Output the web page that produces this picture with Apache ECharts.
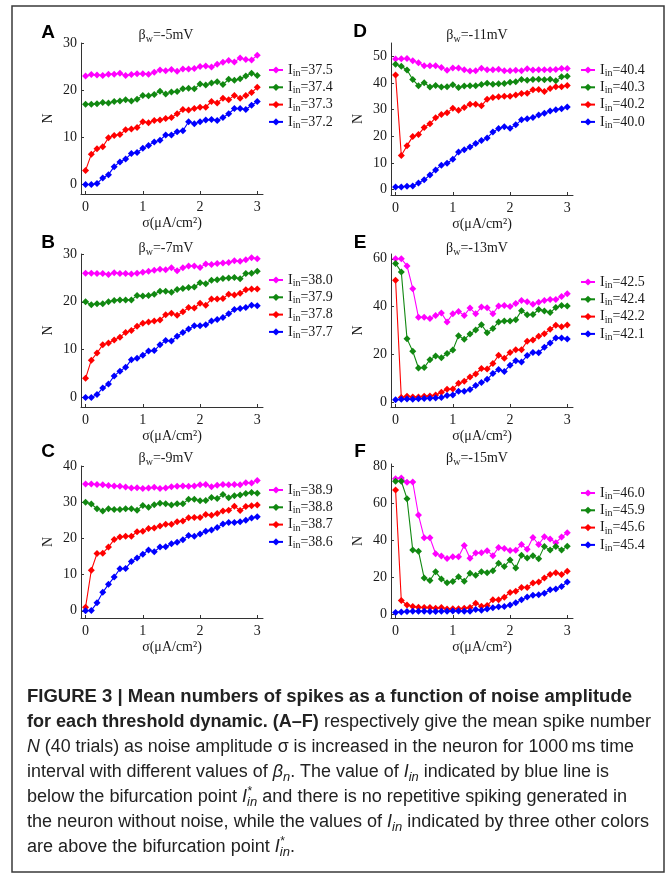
<!DOCTYPE html>
<html><head><meta charset="utf-8">
<script src="https://cdn.jsdelivr.net/npm/echarts@6/dist/echarts.min.js"></script>
<style>html,body{margin:0;padding:0;background:#fff}#c{width:668px;height:875px}</style>
</head><body><div id="c"></div>
<script>
// ---------------- DATA ----------------
const sigma = [0,0.1,0.2,0.3,0.4,0.5,0.6,0.7,0.8,0.9,1.0,1.1,1.2,1.3,1.4,1.5,1.6,1.7,1.8,1.9,2.0,2.1,2.2,2.3,2.4,2.5,2.6,2.7,2.8,2.9,3.0];
const xTicks = [0,1,2,3];

// Panel A (beta_w = -5mV)
const A_I = ['37.5','37.4','37.3','37.2'];
const A_mag = [23.0,23.3,23.2,23.1,23.4,23.4,23.6,23.1,23.3,23.5,23.5,23.4,23.8,24.3,24.1,24.4,24.0,24.5,24.5,24.6,25.0,25.1,24.9,25.5,25.9,26.3,26.0,26.8,26.5,26.4,27.4];
const A_grn = [17.0,17.0,17.1,17.4,17.3,17.6,17.7,18.0,17.7,18.1,18.9,18.8,19.1,19.8,19.2,19.6,19.7,20.3,20.4,20.3,21.3,21.1,21.5,21.8,21.2,22.3,22.1,22.4,23.0,23.6,23.1];
const A_red = [3.0,6.4,7.6,8.0,9.9,10.4,10.6,11.6,11.8,12.1,13.3,13.1,13.6,13.7,14.0,14.2,15.0,15.9,15.8,16.1,16.4,16.4,17.6,17.3,18.3,18.0,18.9,18.3,18.9,19.5,20.6];
const A_blu = [0.0,0.0,0.2,1.4,2.1,3.8,4.8,5.4,6.6,6.8,7.7,8.3,9.0,9.4,10.5,10.5,11.2,11.4,13.3,12.9,13.3,13.7,13.8,13.6,14.2,15.0,16.1,16.1,15.9,16.8,17.6];
const A_yTicks = [0,10,20,30];

// Panel B (beta_w = -7mV)
const B_I = ['38.0','37.9','37.8','37.7'];
const B_mag = [26.0,26.0,25.9,25.9,25.7,26.1,25.9,25.9,25.8,26.0,26.2,26.4,26.6,26.8,26.7,27.1,26.5,27.1,27.5,27.5,27.2,27.9,27.8,28.0,28.1,28.2,28.6,28.5,28.8,29.2,29.0];
const B_grn = [20.0,19.4,19.6,19.6,20.0,20.3,20.4,20.4,20.4,21.3,21.2,21.3,21.6,22.2,22.2,22.0,22.6,22.8,23.0,23.1,24.0,23.8,24.5,24.6,24.9,25.0,25.1,24.8,25.9,26.0,26.4];
const B_red = [4.0,7.8,9.3,11.0,11.4,12.0,12.6,13.6,14.0,14.9,15.5,15.8,16.0,16.2,17.3,17.6,17.2,17.9,18.8,18.7,19.7,19.3,20.6,20.6,20.7,21.6,21.4,21.8,22.5,22.7,22.7];
const B_blu = [0.0,0.0,0.6,2.0,2.8,4.5,5.5,6.3,7.9,8.2,8.8,9.7,9.8,11.0,11.9,11.8,12.8,13.6,14.3,15.0,15.0,15.2,16.0,16.3,16.7,17.5,18.4,18.6,18.8,19.3,19.2];
const B_yTicks = [0,10,20,30];

// Panel C (beta_w = -9mV)
const C_I = ['38.9','38.8','38.7','38.6'];
const C_mag = [35.0,35.0,34.9,34.8,34.6,34.5,34.4,34.2,33.9,34.0,33.8,33.9,34.1,33.8,33.9,34.3,34.4,34.5,34.4,34.5,34.8,34.9,34.3,34.7,34.9,34.8,34.9,34.8,35.4,35.3,36.0];
const C_grn = [30.0,29.5,28.2,27.6,28.2,28.0,28.0,28.2,28.2,27.8,29.1,28.6,29.3,29.7,29.6,29.2,29.6,29.6,30.8,30.8,30.4,30.5,31.3,31.0,32.1,31.2,31.8,32.0,32.4,32.7,32.5];
const C_red = [1.0,11.2,15.8,15.9,17.6,19.7,20.4,20.6,20.6,21.8,22.0,22.7,22.9,23.4,23.9,23.9,24.6,24.8,25.7,25.8,25.8,26.6,26.4,26.9,27.6,27.8,28.9,27.7,28.8,29.0,29.2];
const C_blu = [0.0,0.1,2.2,5.1,7.3,9.3,11.6,11.7,13.6,14.6,15.6,16.8,16.3,17.6,17.7,18.5,18.9,19.6,20.8,20.6,21.2,22.0,22.3,23.0,24.0,24.4,24.4,24.6,25.0,25.6,26.0];
const C_yTicks = [0,10,20,30,40];

// Panel D (beta_w = -11mV)
const D_I = ['40.4','40.3','40.2','40.0'];
const D_mag = [49.0,49.1,49.2,48.3,47.6,46.5,46.5,46.5,45.8,44.8,45.6,45.6,45.0,44.5,44.6,45.5,45.0,45.0,45.2,44.6,44.6,44.8,44.6,45.3,44.9,45.0,45.0,45.0,45.1,45.4,45.4];
const D_grn = [47.0,46.3,44.9,41.3,39.0,40.1,38.5,39.1,38.5,38.6,39.3,38.3,38.9,39.0,39.0,39.4,39.9,39.5,39.7,39.8,40.3,40.5,41.3,41.0,41.3,41.4,41.2,41.4,40.8,42.3,42.5];
const D_red = [43.0,12.8,16.5,19.9,20.7,23.3,24.7,27.0,28.2,28.8,30.5,29.8,30.8,32.0,32.0,31.5,33.9,34.6,34.8,35.0,35.0,35.5,36.1,36.2,37.5,37.6,36.8,37.9,38.6,38.6,39.1];
const D_blu = [1.0,1.0,1.3,1.4,2.5,3.7,5.5,7.4,9.2,9.9,11.4,14.1,15.0,16.0,17.3,18.4,19.4,21.6,22.9,23.6,23.0,24.3,26.2,26.6,27.1,28.0,28.7,29.5,30.0,30.3,31.0];
const D_yTicks = [0,10,20,30,40,50];

// Panel E (beta_w = -13mV)
const E_I = ['42.5','42.4','42.2','42.1'];
const E_mag = [60.0,60.0,57.0,47.5,35.5,35.5,35.0,36.3,37.3,33.6,37.0,38.0,36.3,39.4,37.0,39.8,39.5,37.0,40.3,40.5,40.0,41.3,42.6,42.0,41.0,41.8,42.6,43.0,43.0,44.2,45.4];
const E_grn = [58.0,54.5,26.5,21.3,14.3,14.5,17.8,19.3,18.6,20.4,21.8,27.8,26.3,28.5,30.2,32.4,29.1,30.8,33.6,34.0,34.0,34.5,38.3,36.6,36.7,38.8,38.2,37.5,39.6,40.5,40.2];
const E_red = [51.0,2.0,2.5,2.2,2.2,2.5,2.6,3.0,4.2,5.4,5.5,7.9,8.8,10.5,11.8,14.1,13.9,16.2,19.6,18.4,20.8,21.9,22.0,25.5,26.0,27.6,28.6,30.5,32.2,31.6,32.3];
const E_blu = [1.0,1.2,1.3,1.2,1.4,1.6,1.7,1.8,2.0,2.8,3.0,4.6,4.6,5.3,7.0,8.2,9.6,12.0,13.7,12.9,15.5,17.3,16.8,19.5,20.8,20.7,23.0,24.8,26.9,26.9,26.4];
const E_yTicks = [0,20,40,60];

// Panel F (beta_w = -15mV)
const F_I = ['46.0','45.9','45.6','45.4'];
const F_mag = [73.0,73.5,71.2,71.3,53.5,41.3,41.2,32.6,31.4,30.1,31.0,31.0,37.1,30.2,33.0,33.1,34.3,31.6,36.0,35.4,34.4,34.5,37.6,35.0,41.4,37.6,41.8,40.6,38.6,41.6,44.0];
const F_grn = [71.7,71.7,62.3,34.6,34.0,19.5,18.2,22.9,19.0,17.0,17.7,20.2,17.8,22.1,21.0,22.9,22.4,23.5,27.5,25.8,29.2,24.9,31.8,30.4,31.6,30.0,36.6,34.6,36.6,34.6,36.7];
const F_red = [67.0,7.4,5.0,4.2,3.8,3.6,3.6,3.2,3.7,2.8,3.0,3.0,3.2,3.6,6.0,4.4,4.8,7.9,7.8,9.2,11.8,12.4,14.5,14.5,16.8,17.4,19.5,21.4,22.4,21.5,23.2];
const F_blu = [1.0,1.2,1.5,1.6,1.6,1.7,1.5,1.5,1.6,1.6,1.8,1.8,1.7,1.6,2.6,2.2,2.8,3.5,4.0,4.2,5.0,6.2,7.8,9.3,10.3,10.5,11.3,13.2,13.6,15.0,17.4];
const F_yTicks = [0,20,40,60,80];

const letters = ['A','B','C','D','E','F'];
const betas = ['-5','-7','-9','-11','-13','-15'];
const xName = 'σ(μA/cm²)';
const yName = 'N';

// ---------------- LAYOUT / STYLE ----------------
const panels = [
  {I:A_I, d:[A_mag,A_grn,A_red,A_blu], yt:A_yTicks, ymax:30, g:{left:81,top:43,width:182,height:151}, title:[166,35], letter:[48,33], legend:[268,61.5]},
  {I:B_I, d:[B_mag,B_grn,B_red,B_blu], yt:B_yTicks, ymax:30, g:{left:81,top:254,width:182,height:153}, title:[166,248], letter:[48,243], legend:[268,271.5]},
  {I:C_I, d:[C_mag,C_grn,C_red,C_blu], yt:C_yTicks, ymax:40, g:{left:81,top:466,width:182,height:152}, title:[166,458], letter:[48,452], legend:[268,481.5]},
  {I:D_I, d:[D_mag,D_grn,D_red,D_blu], yt:D_yTicks, ymax:55, g:{left:391,top:43,width:182,height:152}, title:[477,35], letter:[360,32], legend:[580,61.5]},
  {I:E_I, d:[E_mag,E_grn,E_red,E_blu], yt:E_yTicks, ymax:62, g:{left:391,top:254,width:182,height:153}, title:[477,248], letter:[360,243], legend:[580,273.5]},
  {I:F_I, d:[F_mag,F_grn,F_red,F_blu], yt:F_yTicks, ymax:81, g:{left:391,top:464,width:182,height:154}, title:[477,458], letter:[360,452], legend:[580,484.5]}
];
const colors = ['#ff00ff','#118811','#ff0000','#0000ff'];
const SERIF = '"Liberation Serif", "DejaVu Serif", serif';
const SANS = '"Liberation Sans", Arial, sans-serif';
const axisCol = '#333';
const txtCol = '#1a1a1a';

// text measuring helpers for graphic text
const mctx = document.createElement('canvas').getContext('2d');
function fstr(f){ return (f.style||'normal')+' '+(f.weight||'normal')+' '+f.size+'px '+f.family; }
function meas(t,f){ mctx.font = fstr(f); return mctx.measureText(t).width; }
function layoutSegs(segs, x0, y, align, targetW, fill){
  let w = 0; const ws = segs.map(s=>{const m=meas(s.t,s.f); if(!s.noAdv) w+=m; return m;});
  const sc = targetW ? targetW/w : 1;
  const start = align==='center' ? x0 - w*sc/2 : x0;
  let cur = 0; const els = [];
  segs.forEach((s,i)=>{
    els.push({type:'text', silent:true, x:start+cur*sc, y:y+(s.dy||0), scaleX:sc,
      style:{text:s.t, font:fstr(s.f), fill:fill||'#222', align:'left', verticalAlign:'middle', textAlign:'left', textVerticalAlign:'middle'}});
    if(!s.noAdv) cur += ws[i];
  });
  return els;
}

const grid=[], xAxis=[], yAxis=[], series=[], legend=[], graphic=[];
panels.forEach((p,k)=>{
  grid.push(Object.assign({containLabel:false, outerBoundsMode:'none'}, p.g));
  xAxis.push({gridIndex:k, type:'value', min:-0.08, max:3.1,
    axisLine:{show:true, onZero:false, lineStyle:{color:axisCol, width:1}},
    axisTick:{show:true, inside:true, length:3, customValues:xTicks, lineStyle:{color:axisCol}},
    axisLabel:{customValues:xTicks, fontFamily:SERIF, fontSize:14, color:txtCol, margin:6},
    splitLine:{show:false},
    name:xName, nameLocation:'middle', nameGap:22,
    nameTextStyle:{fontFamily:SERIF, fontSize:14, color:txtCol}});
  yAxis.push({gridIndex:k, type:'value', min:-2, max:p.ymax,
    axisLine:{show:true, onZero:false, lineStyle:{color:axisCol, width:1}},
    axisTick:{show:true, inside:true, length:3, customValues:p.yt, lineStyle:{color:axisCol}},
    axisLabel:{customValues:p.yt, fontFamily:SERIF, fontSize:14, color:txtCol, margin:4},
    splitLine:{show:false},
    name:yName, nameLocation:'middle', nameGap:26, nameRotate:90,
    nameTextStyle:{fontFamily:SERIF, fontSize:14, color:txtCol}});
  const names = p.I.map(v=>'Iin='+v);
  p.d.forEach((arr,j)=>{
    series.push({type:'line', name:names[j], xAxisIndex:k, yAxisIndex:k,
      data: sigma.map((x,i)=>[x, arr[i]]),
      symbol:'diamond', symbolSize:7, color:colors[j],
      lineStyle:{width:1.1, color:colors[j]}, itemStyle:{color:colors[j]},
      animation:false, emphasis:{disabled:true}});
  });
  legend.push({data:names, orient:'vertical', left:p.legend[0], top:p.legend[1], padding:0,
    itemWidth:14, itemHeight:9, itemGap:0.3, selectedMode:false,
    formatter: n => '{a|I}{b|in}{a|'+n.slice(3)+'}',
    textStyle:{fontFamily:SERIF, fontSize:14, color:txtCol,
      rich:{a:{fontFamily:SERIF, fontSize:14, lineHeight:17, color:txtCol},
            b:{fontFamily:SERIF, fontSize:10, lineHeight:10, padding:[7,0,0,0], verticalAlign:'bottom', color:txtCol}}}});
  // title
  const tf = {family:SERIF, size:14}, ts = {family:SERIF, size:10};
  graphic.push(...layoutSegs([{t:'β',f:tf},{t:'w',f:ts,dy:4},{t:'='+betas[k]+'mV',f:tf}], p.title[0], p.title[1], 'center', 0, txtCol));
  // panel letter
  graphic.push({type:'text', silent:true, x:p.letter[0], y:p.letter[1],
    style:{text:letters[k], font:'bold 19px '+SANS, fill:'#000', align:'center', verticalAlign:'middle', textAlign:'center', textVerticalAlign:'middle'}});
});

// frame
graphic.push({type:'rect', silent:true, shape:{x:12, y:6, width:652, height:866}, style:{fill:'none', stroke:'#3a3a3a', lineWidth:1.5}});

// caption
const S = 18;
const fB = {family:SANS, size:S, weight:'bold'};
const fR = {family:SANS, size:S};
const fI = {family:SANS, size:S, style:'italic'};
const fIs = {family:SANS, size:13, style:'italic'};
const fSt = {family:SANS, size:12, style:'italic'};
const subDy = 5.5, supDy = -5.5;
const Iin = [{t:'I',f:fI},{t:'in',f:fIs,dy:subDy}];
const Istar = [{t:'I',f:fI},{t:'*',f:fSt,dy:supDy,noAdv:true},{t:'in',f:fIs,dy:subDy}];
const capLines = [
  {y:697, w:605, segs:[{t:'FIGURE 3 | Mean numbers of spikes as a function of noise amplitude',f:fB}]},
  {y:722, w:624, segs:[{t:'for each threshold dynamic. (A–F)',f:fB},{t:' respectively give the mean spike number',f:fR}]},
  {y:747, w:607, segs:[{t:'N',f:fI},{t:' (40 trials) as noise amplitude σ is increased in the neuron for 1000\u2009ms time',f:fR}]},
  {y:772, w:582, segs:[{t:'interval with different values of ',f:fR},{t:'β',f:fI},{t:'n',f:fIs,dy:subDy},{t:'. The value of ',f:fR},...Iin,{t:' indicated by blue line is',f:fR}]},
  {y:797, w:600, segs:[{t:'below the bifurcation point ',f:fR},...Istar,{t:' and there is no repetitive spiking generated in',f:fR}]},
  {y:822, w:622, segs:[{t:'the neuron without noise, while the values of ',f:fR},...Iin,{t:' indicated by three other colors',f:fR}]},
  {y:847, w:268, segs:[{t:'are above the bifurcation point ',f:fR},...Istar,{t:'.',f:fR}]}
];
capLines.forEach(L=>graphic.push(...layoutSegs(L.segs, 27, L.y, 'left', L.w, '#222')));

const chart = echarts.init(document.getElementById('c'), null, {renderer:'canvas'});
chart.setOption({animation:false, backgroundColor:'#fff', grid, xAxis, yAxis, series, legend, graphic});
</script></body></html>
